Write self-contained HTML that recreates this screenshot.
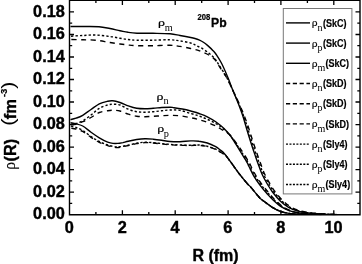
<!DOCTYPE html>
<html><head><meta charset="utf-8"><title>208Pb density</title>
<style>html,body{margin:0;padding:0;background:#fff;overflow:hidden}svg{display:block}</style></head>
<body>
<svg width="362" height="264" viewBox="0 0 362 264">
<rect width="362" height="264" fill="#fff"/>
<g fill="none" stroke="#000" stroke-width="1.4" clip-path="url(#clip)">
<path d="M70.5 26.5C72.9 26.5 80.2 26.4 85.0 26.5C89.8 26.6 94.8 26.5 99.0 26.8C103.2 27.1 106.5 27.9 110.0 28.5C113.5 29.1 117.0 30.1 120.0 30.7C123.0 31.3 125.2 31.9 128.0 32.3C130.8 32.7 132.8 33.0 137.0 33.2C141.2 33.4 147.5 33.2 153.0 33.3C158.5 33.4 165.5 33.4 170.0 33.8C174.5 34.2 176.6 34.9 180.0 35.5C183.4 36.1 188.2 37.0 190.7 37.5C193.2 38.0 193.6 38.1 195.0 38.5C196.4 38.9 197.7 39.3 199.0 39.9C200.3 40.5 201.6 41.1 203.0 42.0C204.4 42.9 205.9 44.0 207.5 45.4C209.1 46.8 211.4 48.9 212.8 50.4C214.2 51.9 214.8 52.4 216.2 54.5C217.6 56.6 219.4 59.2 221.4 63.0C223.4 66.8 226.0 73.0 227.9 77.5C229.8 82.0 231.0 85.7 232.7 90.0C234.4 94.3 236.6 99.0 238.3 103.5C240.0 108.0 241.7 112.3 243.1 116.7C244.5 121.1 245.7 125.6 247.0 130.0C248.3 134.4 249.7 138.9 251.1 143.3C252.5 147.8 254.3 152.9 255.6 156.7C256.9 160.5 257.8 163.0 258.9 166.0C260.0 169.0 260.9 171.8 262.3 174.8C263.7 177.8 265.6 181.1 267.3 184.0C269.0 186.9 270.3 189.1 272.5 192.0C274.7 194.9 277.8 198.6 280.5 201.2C283.2 203.8 286.2 206.0 289.0 207.6C291.8 209.2 294.5 210.1 297.3 210.9C300.1 211.7 302.9 212.2 305.7 212.6C308.5 213.0 310.9 213.2 314.0 213.5C317.1 213.8 320.3 213.9 324.0 214.1C327.7 214.3 334.0 214.5 336.0 214.6"/>
<path d="M70.5 36.2C72.6 36.1 78.8 35.7 83.0 35.5C87.2 35.3 91.5 34.8 96.0 35.0C100.5 35.2 106.0 36.0 110.0 36.5C114.0 37.0 117.0 37.7 120.0 38.2C123.0 38.7 125.2 39.2 128.0 39.5C130.8 39.8 132.8 40.1 137.0 40.2C141.2 40.3 147.5 40.3 153.0 40.2C158.5 40.1 165.5 39.7 170.0 39.8C174.5 39.9 176.6 40.4 180.0 40.9C183.4 41.4 188.0 42.2 190.7 43.0C193.4 43.8 194.3 44.5 196.2 45.5C198.2 46.5 200.4 47.4 202.5 48.7C204.6 50.0 207.1 51.8 208.8 53.1C210.4 54.4 211.4 55.2 212.5 56.3C213.6 57.4 214.4 58.1 215.5 59.6C216.6 61.1 217.1 62.0 219.0 65.0C220.9 68.0 224.4 73.3 226.7 77.5C228.9 81.7 230.7 85.7 232.7 90.0C234.7 94.3 236.8 99.0 238.7 103.5C240.6 108.0 242.3 112.3 243.9 116.7C245.5 121.1 246.8 125.6 248.2 130.0C249.6 134.4 250.9 138.9 252.4 143.3C253.9 147.8 255.7 152.9 257.0 156.7C258.3 160.5 259.2 163.0 260.3 166.0C261.5 169.0 262.4 171.8 263.8 174.8C265.2 177.8 267.1 181.1 268.9 184.0C270.6 186.9 271.9 189.1 274.1 192.0C276.3 194.9 279.3 198.6 282.1 201.2C284.8 203.8 287.7 206.0 290.5 207.6C293.3 209.2 296.0 210.1 298.8 210.9C301.6 211.7 304.4 212.2 307.2 212.6C310.0 213.0 312.5 213.2 315.5 213.5C318.6 213.8 321.8 213.9 325.5 214.1C329.2 214.3 335.5 214.5 337.5 214.6" stroke-dasharray="2.3 2.1" stroke-dashoffset="-0.6"/>
<path d="M70.5 39.5C72.6 39.5 78.8 39.7 83.0 39.8C87.2 39.9 91.5 39.8 96.0 40.2C100.5 40.7 106.0 41.9 110.0 42.5C114.0 43.1 117.0 43.6 120.0 44.0C123.0 44.4 125.2 44.7 128.0 45.0C130.8 45.3 132.8 45.6 137.0 45.7C141.2 45.8 147.5 45.8 153.0 45.7C158.5 45.6 165.5 45.2 170.0 45.3C174.5 45.4 176.6 45.9 180.0 46.4C183.4 46.9 187.8 47.9 190.7 48.5C193.6 49.1 195.5 49.6 197.5 50.2C199.5 50.8 200.6 51.3 202.5 52.1C204.4 52.9 207.1 54.1 208.8 55.0C210.4 55.9 211.4 56.4 212.5 57.3C213.6 58.2 214.4 58.9 215.5 60.3C216.6 61.7 217.2 62.9 219.0 65.8C220.8 68.7 224.3 73.5 226.6 77.5C228.8 81.5 230.6 85.7 232.7 90.0C234.8 94.3 237.1 99.0 239.1 103.5C241.1 108.0 242.9 112.3 244.6 116.7C246.3 121.1 247.8 125.6 249.3 130.0C250.8 134.4 252.0 138.9 253.5 143.3C255.0 147.8 256.8 152.9 258.1 156.7C259.5 160.5 260.4 163.0 261.5 166.0C262.6 169.0 263.5 171.8 265.0 174.8C266.4 177.8 268.3 181.1 270.1 184.0C271.8 186.9 273.1 189.1 275.3 192.0C277.5 194.9 280.6 198.6 283.4 201.2C286.2 203.8 289.1 206.0 291.9 207.6C294.8 209.2 297.5 210.1 300.3 210.9C303.1 211.7 305.9 212.2 308.7 212.6C311.5 213.0 313.9 213.2 317.0 213.5C320.0 213.8 323.3 213.9 327.0 214.1C330.7 214.3 337.0 214.5 339.0 214.6" stroke-dasharray="5.1 4.5" stroke-dashoffset="-1"/>
<path d="M70.5 119.6C71.4 119.4 74.0 118.9 76.0 118.2C78.0 117.5 80.2 116.8 82.7 115.3C85.2 113.8 88.2 111.4 91.0 109.5C93.8 107.6 96.5 105.2 99.3 103.8C102.1 102.4 105.5 101.7 107.7 101.2C109.9 100.7 110.7 100.6 112.7 100.8C114.8 101.0 117.4 101.7 120.0 102.5C122.6 103.3 125.5 104.8 128.3 105.8C131.1 106.8 133.9 107.8 136.7 108.3C139.5 108.8 142.2 108.8 145.0 108.8C147.8 108.8 150.5 108.5 153.3 108.3C156.1 108.1 158.9 107.7 161.7 107.5C164.5 107.3 167.9 107.2 170.0 107.2C172.1 107.2 171.9 107.4 174.0 107.7C176.1 108.0 179.5 108.5 182.3 109.0C185.1 109.5 187.9 110.2 190.7 111.0C193.5 111.8 196.2 112.5 199.0 113.5C201.8 114.5 204.5 115.4 207.3 116.8C210.1 118.2 212.9 119.8 215.7 121.8C218.5 123.8 221.5 126.1 224.0 128.5C226.5 130.9 228.1 132.3 230.7 136.0C233.3 139.7 237.0 146.1 239.7 150.5C242.4 154.9 245.4 159.6 247.0 162.3C248.6 165.0 247.8 164.2 249.0 166.5C250.2 168.8 252.1 173.1 254.0 176.3C255.9 179.5 258.2 182.8 260.3 185.6C262.4 188.4 264.4 190.7 266.5 193.0C268.6 195.3 270.2 197.4 272.6 199.6C275.0 201.8 278.0 204.6 280.7 206.4C283.4 208.2 286.2 209.6 289.0 210.7C291.8 211.8 294.5 212.3 297.3 212.8C300.1 213.3 301.9 213.5 306.0 213.8C310.1 214.1 319.3 214.4 322.0 214.5"/>
<path d="M70.5 124.3C71.4 124.2 74.0 124.1 76.0 123.5C78.0 122.9 80.2 122.2 82.7 120.8C85.2 119.4 88.2 117.1 91.0 115.0C93.8 112.9 96.5 110.0 99.3 108.3C102.1 106.6 105.5 105.7 107.7 105.0C109.9 104.3 110.7 104.2 112.7 104.2C114.8 104.2 117.4 104.2 120.0 105.0C122.6 105.8 125.5 108.1 128.3 109.2C131.1 110.3 133.9 111.2 136.7 111.7C139.5 112.2 142.2 112.2 145.0 112.2C147.8 112.2 150.5 111.9 153.3 111.7C156.1 111.5 158.9 111.1 161.7 110.8C164.5 110.5 166.9 110.1 170.0 110.0C173.1 109.9 176.6 109.8 180.0 110.4C183.4 111.0 187.5 112.6 190.7 113.5C193.9 114.4 196.2 115.0 199.0 116.0C201.8 117.0 204.5 118.0 207.3 119.3C210.1 120.5 213.2 122.1 215.7 123.5C218.1 124.9 219.5 125.7 222.0 127.8C224.5 129.9 227.5 132.2 230.6 136.0C233.7 139.8 237.6 146.1 240.5 150.5C243.4 154.9 246.4 159.6 248.0 162.3C249.6 165.0 248.9 164.2 250.1 166.5C251.3 168.8 253.3 173.1 255.3 176.3C257.2 179.5 259.6 182.8 261.7 185.6C263.8 188.4 265.9 190.7 267.9 193.0C269.9 195.3 271.5 197.4 273.8 199.6C276.1 201.8 279.0 204.6 281.7 206.4C284.3 208.2 287.1 209.6 289.8 210.7C292.5 211.8 295.2 212.3 298.0 212.8C300.9 213.3 302.6 213.5 306.7 213.8C310.8 214.1 320.0 214.4 322.7 214.5" stroke-dasharray="2.3 2.1" stroke-dashoffset="-0.6"/>
<path d="M70.5 125.0C71.4 124.9 74.0 124.8 76.0 124.3C78.0 123.8 80.2 122.8 82.7 121.7C85.2 120.6 88.2 119.0 91.0 117.5C93.8 116.0 96.5 113.6 99.3 112.5C102.1 111.4 105.5 111.2 107.7 110.8C109.9 110.4 110.7 110.3 112.7 110.3C114.8 110.3 117.4 110.3 120.0 111.0C122.6 111.7 125.5 113.3 128.3 114.2C131.1 115.1 133.9 115.8 136.7 116.2C139.5 116.6 142.2 116.7 145.0 116.7C147.8 116.7 150.5 116.5 153.3 116.3C156.1 116.1 158.9 116.0 161.7 115.8C164.5 115.6 166.9 115.3 170.0 115.3C173.1 115.3 176.6 115.4 180.0 115.8C183.4 116.2 187.5 117.0 190.7 117.7C193.9 118.4 196.2 118.9 199.0 119.7C201.8 120.5 204.5 121.2 207.3 122.3C210.1 123.3 213.6 125.0 215.7 126.0C217.8 127.0 218.6 127.7 220.0 128.5C221.4 129.3 222.2 129.8 224.0 131.0C225.8 132.2 228.0 132.8 230.9 136.0C233.8 139.2 238.5 146.1 241.5 150.5C244.5 154.9 247.4 159.6 249.0 162.3C250.6 165.0 249.9 164.2 251.1 166.5C252.3 168.8 254.4 173.1 256.3 176.3C258.3 179.5 260.7 182.8 262.8 185.6C264.9 188.4 267.0 190.7 268.9 193.0C270.9 195.3 272.4 197.4 274.7 199.6C276.9 201.8 279.8 204.6 282.4 206.4C285.0 208.2 287.8 209.6 290.5 210.7C293.2 211.8 295.9 212.3 298.7 212.8C301.5 213.3 303.2 213.5 307.3 213.8C311.4 214.1 320.6 214.4 323.3 214.5" stroke-dasharray="5.1 4.5" stroke-dashoffset="-1"/>
<path d="M70.5 122.8C71.4 123.0 74.0 123.3 76.0 123.8C78.0 124.3 80.2 124.6 82.7 126.0C85.2 127.4 88.2 130.2 91.0 132.2C93.8 134.2 96.5 136.2 99.3 137.8C102.1 139.5 105.4 141.2 107.7 142.1C110.0 143.0 111.3 143.2 113.0 143.4C114.7 143.6 116.3 143.5 118.0 143.4C119.7 143.3 121.3 142.9 123.0 142.6C124.7 142.2 126.0 141.8 128.3 141.3C130.6 140.8 133.9 139.9 136.7 139.5C139.5 139.1 142.2 138.8 145.0 138.7C147.8 138.6 150.5 138.9 153.3 139.2C156.1 139.5 158.9 139.9 161.7 140.3C164.5 140.7 166.9 141.3 170.0 141.5C173.1 141.7 176.6 141.8 180.0 141.7C183.4 141.6 187.5 141.0 190.7 140.9C193.9 140.8 196.2 140.8 199.0 141.2C201.8 141.5 204.5 142.1 207.3 143.0C210.1 143.9 213.6 145.6 215.7 146.7C217.8 147.8 218.6 148.7 220.0 149.8C221.4 150.9 222.8 151.9 224.0 153.2C225.2 154.5 226.4 156.1 227.5 157.6C228.6 159.1 229.5 160.4 230.7 162.0C231.9 163.6 233.2 165.5 234.5 167.3C235.8 169.2 236.6 170.4 238.7 173.1C240.8 175.8 245.1 181.1 247.0 183.3C248.9 185.6 248.7 184.8 250.3 186.6C251.9 188.4 254.8 192.1 256.5 194.1C258.2 196.1 259.1 197.3 260.3 198.5C261.6 199.7 262.0 199.8 264.0 201.3C266.0 202.8 269.5 205.6 272.3 207.3C275.1 209.0 277.9 210.5 280.7 211.5C283.5 212.5 285.8 212.9 289.0 213.4C292.2 213.9 298.2 214.2 300.0 214.4"/>
<path d="M70.5 126.0C71.4 126.2 74.0 126.8 76.0 127.5C78.0 128.2 80.2 129.0 82.7 130.5C85.2 132.0 88.2 134.7 91.0 136.5C93.8 138.3 96.5 140.1 99.3 141.5C102.1 142.9 104.9 144.1 107.7 145.0C110.5 145.9 114.0 146.7 116.0 147.0C118.0 147.3 118.0 147.1 120.0 146.8C122.0 146.5 125.5 145.8 128.3 145.2C131.1 144.6 133.9 143.7 136.7 143.2C139.5 142.7 142.2 142.3 145.0 142.2C147.8 142.1 150.5 142.5 153.3 142.7C156.1 142.9 158.9 143.3 161.7 143.6C164.5 143.9 166.9 144.2 170.0 144.4C173.1 144.6 176.6 144.9 180.0 145.0C183.4 145.1 187.5 145.2 190.7 145.2C193.9 145.2 196.2 144.8 199.0 145.0C201.8 145.2 204.5 145.5 207.3 146.2C210.1 146.9 213.4 148.2 215.7 149.2C218.0 150.2 219.5 151.3 221.0 152.2C222.5 153.1 223.4 153.7 224.5 154.6C225.6 155.5 226.5 156.4 227.5 157.6C228.5 158.8 229.5 160.4 230.7 162.0C231.9 163.6 233.2 165.5 234.5 167.3C235.8 169.2 236.6 170.4 238.7 173.1C240.8 175.8 245.1 181.1 247.0 183.3C248.9 185.6 248.7 184.8 250.3 186.6C251.9 188.4 254.8 192.1 256.5 194.1C258.2 196.1 259.1 197.3 260.3 198.5C261.6 199.7 262.0 199.8 264.0 201.3C266.0 202.8 269.5 205.6 272.3 207.3C275.1 209.0 277.9 210.5 280.7 211.5C283.5 212.5 285.8 212.9 289.0 213.4C292.2 213.9 298.2 214.2 300.0 214.4" stroke-dasharray="2.3 2.1" stroke-dashoffset="-0.6"/>
<path d="M70.5 128.0C71.4 128.2 74.0 128.4 76.0 129.0C78.0 129.6 80.2 130.1 82.7 131.5C85.2 132.9 88.2 135.5 91.0 137.3C93.8 139.1 96.5 140.9 99.3 142.3C102.1 143.7 104.9 144.7 107.7 145.6C110.5 146.5 114.0 147.2 116.0 147.5C118.0 147.8 118.0 147.5 120.0 147.2C122.0 146.9 125.5 146.1 128.3 145.5C131.1 144.9 133.9 144.1 136.7 143.6C139.5 143.1 142.2 142.7 145.0 142.6C147.8 142.5 150.5 142.8 153.3 143.0C156.1 143.2 158.9 143.6 161.7 143.9C164.5 144.2 166.9 144.5 170.0 144.7C173.1 144.9 176.6 145.2 180.0 145.3C183.4 145.4 187.5 145.5 190.7 145.5C193.9 145.5 196.2 145.1 199.0 145.3C201.8 145.5 204.5 145.8 207.3 146.5C210.1 147.2 213.4 148.5 215.7 149.5C218.0 150.5 219.5 151.6 221.0 152.5C222.5 153.4 223.4 154.0 224.5 154.8C225.6 155.7 226.5 156.4 227.5 157.6C228.5 158.8 229.5 160.4 230.7 162.0C231.9 163.6 233.2 165.5 234.5 167.3C235.8 169.2 236.6 170.4 238.7 173.1C240.8 175.8 245.1 181.1 247.0 183.3C248.9 185.6 248.7 184.8 250.3 186.6C251.9 188.4 254.8 192.1 256.5 194.1C258.2 196.1 259.1 197.3 260.3 198.5C261.6 199.7 262.0 199.8 264.0 201.3C266.0 202.8 269.5 205.6 272.3 207.3C275.1 209.0 277.9 210.5 280.7 211.5C283.5 212.5 285.8 212.9 289.0 213.4C292.2 213.9 298.2 214.2 300.0 214.4" stroke-dasharray="5.1 4.5" stroke-dashoffset="-1"/>
</g>
<g stroke="#000" stroke-width="1.4" fill="none">
<path d="M69.5 0.4H360.0V214.7H69.5Z"/>
<path stroke-width="1.3" d="M69.5 203.4h2.7M360.0 203.4h-2.7M69.5 192.2h4.5M360.0 192.2h-4.5M69.5 180.9h2.7M360.0 180.9h-2.7M69.5 169.6h4.5M360.0 169.6h-4.5M69.5 158.4h2.7M360.0 158.4h-2.7M69.5 147.1h4.5M360.0 147.1h-4.5M69.5 135.8h2.7M360.0 135.8h-2.7M69.5 124.6h4.5M360.0 124.6h-4.5M69.5 113.3h2.7M360.0 113.3h-2.7M69.5 102.0h4.5M360.0 102.0h-4.5M69.5 90.8h2.7M360.0 90.8h-2.7M69.5 79.5h4.5M360.0 79.5h-4.5M69.5 68.3h2.7M360.0 68.3h-2.7M69.5 57.0h4.5M360.0 57.0h-4.5M69.5 45.7h2.7M360.0 45.7h-2.7M69.5 34.5h4.5M360.0 34.5h-4.5M69.5 23.2h2.7M360.0 23.2h-2.7M69.5 11.9h4.5M360.0 11.9h-4.5M95.9 214.7v-2.7M95.9 0.4v2.7M122.4 214.7v-4.5M122.4 0.4v4.5M148.8 214.7v-2.7M148.8 0.4v2.7M175.2 214.7v-4.5M175.2 0.4v4.5M201.7 214.7v-2.7M201.7 0.4v2.7M228.1 214.7v-4.5M228.1 0.4v4.5M254.5 214.7v-2.7M254.5 0.4v2.7M280.9 214.7v-4.5M280.9 0.4v4.5M307.4 214.7v-2.7M307.4 0.4v2.7M333.8 214.7v-4.5M333.8 0.4v4.5"/>
</g>
<g font-family="'Liberation Sans', Arial, sans-serif" font-weight="bold" font-size="16.3px" fill="#000" stroke="#000" stroke-width="0.4" stroke-linejoin="round">
<g text-anchor="end">
<text x="64.8" y="219.3">0.00</text>
<text x="64.8" y="196.8">0.02</text>
<text x="64.8" y="174.2">0.04</text>
<text x="64.8" y="151.7">0.06</text>
<text x="64.8" y="129.2">0.08</text>
<text x="64.8" y="106.6">0.10</text>
<text x="64.8" y="84.1">0.12</text>
<text x="64.8" y="61.6">0.14</text>
<text x="64.8" y="39.1">0.16</text>
<text x="64.8" y="16.5">0.18</text>
</g><g text-anchor="middle">
<text x="69.3" y="232.6">0</text>
<text x="122.2" y="232.6">2</text>
<text x="175.0" y="232.6">4</text>
<text x="227.9" y="232.6">6</text>
<text x="280.7" y="232.6">8</text>
<text x="333.6" y="232.6">10</text>
</g>
<text x="215.5" y="260.7" text-anchor="middle" font-size="16px">R (fm)</text>
<g transform="translate(16.4 170) rotate(-90)">
<text x="0.2" y="-1.0" font-family="'Liberation Serif', 'Times New Roman', serif" font-weight="normal" font-size="15.8px" stroke-width="0.15">ρ</text>
<text x="8.6" y="0" font-size="16.2px">(R)</text>
<text transform="translate(44.1 -2.6) scale(1.22 1)" font-size="18.5px" font-weight="normal" stroke="none">(</text>
<text x="50.8" y="-0.2" font-size="16.5px">fm</text>
<text x="72.9" y="-9.3" font-size="9.6px" stroke-width="0.2">-3</text>
<text transform="translate(80.9 -2.6) scale(1.22 1)" font-size="18.5px" font-weight="normal" stroke="none">)</text>
</g>
<text x="197.4" y="20.3" font-size="8.4px" stroke-width="0.2" textLength="12.8" lengthAdjust="spacingAndGlyphs">208</text><text transform="translate(211 27) scale(0.94 1.03)" font-size="13px" stroke-width="0.3">Pb</text>
</g>
<g font-family="'Liberation Serif', 'Times New Roman', serif" fill="#000">
<text transform="translate(158.1 26.0) scale(1.16 0.89)" font-size="12px" stroke="#000" stroke-width="0.25">ρ</text><text x="164.8" y="30.6" font-size="10.3px">m</text>
<text transform="translate(156.6 99.5) scale(1.16 0.89)" font-size="12px" stroke="#000" stroke-width="0.25">ρ</text><text x="163.5" y="103.5" font-size="10.3px">n</text>
<text transform="translate(157.2 132.0) scale(1.16 0.89)" font-size="12px" stroke="#000" stroke-width="0.25">ρ</text><text x="163.8" y="136.7" font-size="10.3px">p</text>
</g>
<rect x="283.3" y="8.5" width="68.6" height="185.4" fill="#fff" stroke="#777" stroke-width="1"/>
<path d="M286 22.9H310" stroke="#000" stroke-width="1.4" fill="none"/>
<text transform="translate(311.7 26.35) scale(1.11 0.905)" font-family="'Liberation Serif', 'Times New Roman', serif" font-size="10.5px" fill="#000" stroke="#000" stroke-width="0.15">ρ</text>
<text x="317.5" y="30.6" font-family="'Liberation Serif', 'Times New Roman', serif" font-size="10px" fill="#000">n</text>
<text transform="translate(322.9 26.5) scale(0.92 1.03)" font-family="'Liberation Sans', Arial, sans-serif" font-weight="bold" font-size="9.8px" fill="#000" stroke="#000" stroke-width="0.18">(SkC)</text>
<path d="M286 43.1H310" stroke="#000" stroke-width="1.4" fill="none"/>
<text transform="translate(311.7 46.55) scale(1.11 0.905)" font-family="'Liberation Serif', 'Times New Roman', serif" font-size="10.5px" fill="#000" stroke="#000" stroke-width="0.15">ρ</text>
<text x="317.5" y="50.8" font-family="'Liberation Serif', 'Times New Roman', serif" font-size="10px" fill="#000">p</text>
<text transform="translate(322.9 46.7) scale(0.92 1.03)" font-family="'Liberation Sans', Arial, sans-serif" font-weight="bold" font-size="9.8px" fill="#000" stroke="#000" stroke-width="0.18">(SkC)</text>
<path d="M286 63.3H310" stroke="#000" stroke-width="1.4" fill="none"/>
<text transform="translate(311.7 66.75) scale(1.11 0.905)" font-family="'Liberation Serif', 'Times New Roman', serif" font-size="10.5px" fill="#000" stroke="#000" stroke-width="0.15">ρ</text>
<text x="317.5" y="71.0" font-family="'Liberation Serif', 'Times New Roman', serif" font-size="10px" fill="#000">m</text>
<text transform="translate(325.6 66.9) scale(0.92 1.03)" font-family="'Liberation Sans', Arial, sans-serif" font-weight="bold" font-size="9.8px" fill="#000" stroke="#000" stroke-width="0.18">(SkC)</text>
<path d="M286 83.5H310" stroke="#000" stroke-width="1.4" fill="none" stroke-dasharray="4.2 2.6"/>
<text transform="translate(311.7 86.95) scale(1.11 0.905)" font-family="'Liberation Serif', 'Times New Roman', serif" font-size="10.5px" fill="#000" stroke="#000" stroke-width="0.15">ρ</text>
<text x="317.5" y="91.2" font-family="'Liberation Serif', 'Times New Roman', serif" font-size="10px" fill="#000">n</text>
<text transform="translate(322.9 87.1) scale(0.92 1.03)" font-family="'Liberation Sans', Arial, sans-serif" font-weight="bold" font-size="9.8px" fill="#000" stroke="#000" stroke-width="0.18">(SkD)</text>
<path d="M286 103.7H310" stroke="#000" stroke-width="1.4" fill="none" stroke-dasharray="4.2 2.6"/>
<text transform="translate(311.7 107.15) scale(1.11 0.905)" font-family="'Liberation Serif', 'Times New Roman', serif" font-size="10.5px" fill="#000" stroke="#000" stroke-width="0.15">ρ</text>
<text x="317.5" y="111.4" font-family="'Liberation Serif', 'Times New Roman', serif" font-size="10px" fill="#000">p</text>
<text transform="translate(322.9 107.3) scale(0.92 1.03)" font-family="'Liberation Sans', Arial, sans-serif" font-weight="bold" font-size="9.8px" fill="#000" stroke="#000" stroke-width="0.18">(SkD)</text>
<path d="M286 123.9H310" stroke="#000" stroke-width="1.4" fill="none" stroke-dasharray="4.2 2.6"/>
<text transform="translate(311.7 127.35) scale(1.11 0.905)" font-family="'Liberation Serif', 'Times New Roman', serif" font-size="10.5px" fill="#000" stroke="#000" stroke-width="0.15">ρ</text>
<text x="317.5" y="131.6" font-family="'Liberation Serif', 'Times New Roman', serif" font-size="10px" fill="#000">m</text>
<text transform="translate(325.6 127.5) scale(0.92 1.03)" font-family="'Liberation Sans', Arial, sans-serif" font-weight="bold" font-size="9.8px" fill="#000" stroke="#000" stroke-width="0.18">(SkD)</text>
<path d="M286 144.1H310" stroke="#000" stroke-width="1.4" fill="none" stroke-dasharray="2 1.46"/>
<text transform="translate(311.7 147.55) scale(1.11 0.905)" font-family="'Liberation Serif', 'Times New Roman', serif" font-size="10.5px" fill="#000" stroke="#000" stroke-width="0.15">ρ</text>
<text x="317.5" y="151.8" font-family="'Liberation Serif', 'Times New Roman', serif" font-size="10px" fill="#000">n</text>
<text transform="translate(322.9 147.7) scale(0.92 1.03)" font-family="'Liberation Sans', Arial, sans-serif" font-weight="bold" font-size="9.8px" fill="#000" stroke="#000" stroke-width="0.18">(Sly4)</text>
<path d="M286 164.3H310" stroke="#000" stroke-width="1.4" fill="none" stroke-dasharray="2 1.46"/>
<text transform="translate(311.7 167.75) scale(1.11 0.905)" font-family="'Liberation Serif', 'Times New Roman', serif" font-size="10.5px" fill="#000" stroke="#000" stroke-width="0.15">ρ</text>
<text x="317.5" y="172.0" font-family="'Liberation Serif', 'Times New Roman', serif" font-size="10px" fill="#000">p</text>
<text transform="translate(322.9 167.9) scale(0.92 1.03)" font-family="'Liberation Sans', Arial, sans-serif" font-weight="bold" font-size="9.8px" fill="#000" stroke="#000" stroke-width="0.18">(Sly4)</text>
<path d="M286 184.5H310" stroke="#000" stroke-width="1.4" fill="none" stroke-dasharray="2 1.46"/>
<text transform="translate(311.7 187.95) scale(1.11 0.905)" font-family="'Liberation Serif', 'Times New Roman', serif" font-size="10.5px" fill="#000" stroke="#000" stroke-width="0.15">ρ</text>
<text x="317.5" y="192.2" font-family="'Liberation Serif', 'Times New Roman', serif" font-size="10px" fill="#000">m</text>
<text transform="translate(325.6 188.1) scale(0.92 1.03)" font-family="'Liberation Sans', Arial, sans-serif" font-weight="bold" font-size="9.8px" fill="#000" stroke="#000" stroke-width="0.18">(Sly4)</text>
<defs><clipPath id="clip"><rect x="69.7" y="0" width="291" height="215.2"/></clipPath></defs>
</svg>
</body></html>
